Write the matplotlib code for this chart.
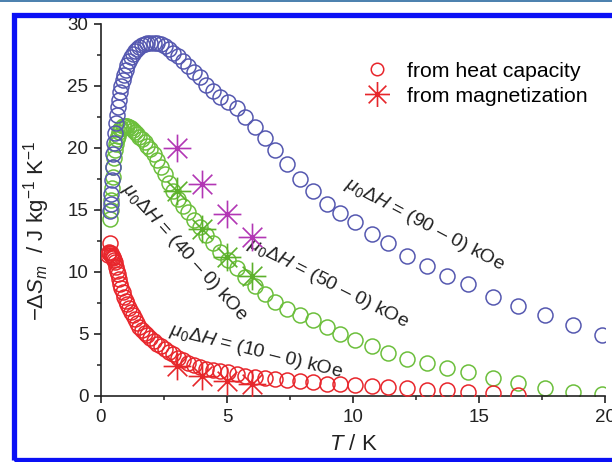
import numpy as np
import matplotlib
matplotlib.use("Agg")
import matplotlib.pyplot as plt
from matplotlib.path import Path
from matplotlib.lines import Line2D
from matplotlib.patches import Rectangle
from matplotlib.ticker import MultipleLocator

plt.rcParams['font.family'] = ['Liberation Sans', 'DejaVu Sans']
plt.rcParams['mathtext.fontset'] = 'custom'
plt.rcParams['mathtext.rm'] = 'Liberation Sans'
plt.rcParams['mathtext.it'] = 'Liberation Sans:italic'
plt.rcParams['mathtext.bf'] = 'Liberation Sans:bold'

# ---------------- data ----------------
T_hc = [0.36, 0.38, 0.40, 0.43, 0.46, 0.49, 0.52, 0.55, 0.59, 0.63,
        0.67, 0.71, 0.76, 0.81, 0.86, 0.92, 0.98, 1.04, 1.11, 1.18,
        1.26, 1.34, 1.43, 1.52, 1.62, 1.73, 1.84, 1.96, 2.09, 2.22,
        2.37, 2.52, 2.69, 2.86, 3.05, 3.25, 3.46, 3.68, 3.92, 4.18,
        4.45, 4.74, 5.05, 5.38, 5.73, 6.10, 6.50, 6.92, 7.37, 7.90,
        8.40, 8.96, 9.48, 10.08, 10.74, 11.39, 12.13, 12.92, 13.72, 14.56,
        15.56, 16.55, 17.62, 18.72, 19.87]

S_90 = [14.9, 15.5, 16.3, 17.4, 18.5, 19.5, 20.4, 21.2, 22.0, 22.7,
        23.3, 23.9, 24.5, 25.0, 25.5, 25.9, 26.3, 26.7, 27.0, 27.3,
        27.6, 27.8, 28.0, 28.15, 28.3, 28.4, 28.45, 28.5, 28.5, 28.45,
        28.35, 28.2, 28.0, 27.7, 27.4, 27.0, 26.6, 26.1, 25.7, 25.1,
        24.6, 24.1, 23.7, 23.2, 22.5, 21.7, 20.8, 19.8, 18.7, 17.5,
        16.5, 15.5, 14.76, 14.0, 13.1, 12.3, 11.3, 10.5, 9.7, 9.0,
        8.0, 7.25, 6.5, 5.7, 4.9]

S_50 = [14.3, 15.0, 15.8, 16.8, 17.7, 18.5, 19.2, 19.8, 20.3, 20.7,
        21.0, 21.3, 21.5, 21.65, 21.75, 21.8, 21.8, 21.75, 21.7, 21.6,
        21.45, 21.3, 21.1, 20.9, 20.7, 20.45, 20.2, 19.9, 19.5, 19.0,
        18.5, 17.9, 17.2, 16.5, 15.9, 15.3, 14.8, 14.2, 13.6, 13.0,
        12.3, 11.6, 11.0, 10.3, 9.6, 8.9, 8.2, 7.6, 7.0, 6.5,
        6.1, 5.6, 5.0, 4.5, 4.0, 3.45, 3.0, 2.65, 2.25, 1.95,
        1.45, 1.05, 0.65, 0.35, 0.2]

T_10 = [0.28, 0.30, 0.33, 0.36, 0.38, 0.40, 0.43, 0.46, 0.49, 0.52,
        0.55, 0.59, 0.63, 0.67, 0.71, 0.76, 0.81, 0.86, 0.92, 0.98,
        1.04, 1.11, 1.18, 1.26, 1.34, 1.43, 1.52, 1.62, 1.73, 1.84,
        1.96, 2.09, 2.22, 2.37, 2.52, 2.69, 2.86, 3.05, 3.25, 3.46,
        3.68, 3.92, 4.18, 4.45, 4.74, 5.05, 5.38, 5.73, 6.10, 6.50,
        6.92, 7.37, 7.90, 8.40, 8.96, 9.48, 10.08, 10.74, 11.39, 12.13,
        12.92, 13.72, 14.56, 15.56, 16.55]
S_10 = [11.4, 11.5, 11.6, 12.3, 11.5, 11.4, 11.3, 11.2, 11.1, 11.0,
        10.8, 10.4, 10.1, 9.8, 9.4, 9.0, 8.7, 8.4, 8.0, 7.7,
        7.4, 7.1, 6.8, 6.5, 6.2, 5.9, 5.6, 5.35, 5.1, 4.9,
        4.65, 4.45, 4.2, 4.0, 3.8, 3.55, 3.35, 3.1, 2.9, 2.7,
        2.5, 2.35, 2.2, 2.1, 2.0, 1.9, 1.75, 1.6, 1.5, 1.42,
        1.35, 1.28, 1.2, 1.1, 1.0, 0.95, 0.88, 0.8, 0.72, 0.62,
        0.52, 0.45, 0.36, 0.22, 0.08]

T_mag = [3, 4, 5, 6]
M_90 = [20.0, 17.1, 14.7, 12.8]
M_50 = [16.5, 13.5, 11.2, 9.7]
M_10 = [2.4, 1.6, 1.2, 1.0]

labels = [r'$\mu_0\Delta H$ = (90 – 0) kOe',
          r'$\mu_0\Delta H$ = (50 – 0) kOe',
          r'$\mu_0\Delta H$ = (40 – 0) kOe',
          r'$\mu_0\Delta H$ = (10 – 0) kOe']
legend_labels = ['from heat capacity', 'from magnetization']

# ---------------- style ----------------
c_blue = '#5558b0'
c_green = '#6cbf3c'
c_red = '#e8262c'
c_mag = '#b236b4'
c_gstar = '#5cb02a'
c_rstar = '#e6262a'

# 8-armed asterisk marker
verts, codes = [], []
for ang in np.deg2rad([0, 45, 90, 135]):
    verts += [(np.cos(ang), np.sin(ang)), (-np.cos(ang), -np.sin(ang))]
    codes += [Path.MOVETO, Path.LINETO]
star = Path(verts, codes)

fig = plt.figure(figsize=(6.12, 4.62), dpi=100)
ax = fig.add_axes([101/612, 66/462, 504/612, 372/462])

ms_c = 10.8
mew_c = 1.1
ax.plot(T_hc, S_50, 'o', ms=ms_c, mfc='none', mec=c_green, mew=mew_c, zorder=2)
ax.plot(T_hc, S_90, 'o', ms=ms_c, mfc='none', mec=c_blue, mew=mew_c, zorder=3)
ax.plot(T_10, S_10, 'o', ms=ms_c, mfc='none', mec=c_red, mew=mew_c, zorder=3)

ms_s = 20
mew_s = 1.2
ax.plot(T_mag, M_90, ls='none', marker=star, ms=ms_s, mfc='none', mec=c_mag, mew=mew_s, zorder=5)
ax.plot(T_mag, M_50, ls='none', marker=star, ms=ms_s, mfc='none', mec=c_gstar, mew=mew_s, zorder=5)
ax.plot(T_mag, M_10, ls='none', marker=star, ms=ms_s, mfc='none', mec=c_rstar, mew=mew_s, zorder=5)

ax.set_xlim(0, 20)
ax.set_ylim(0, 30)
ax.spines['top'].set_visible(False)
ax.spines['right'].set_visible(False)
for s in ['left', 'bottom']:
    ax.spines[s].set_linewidth(1.2)
    ax.spines[s].set_color('#222222')
ax.xaxis.set_major_locator(MultipleLocator(5))
ax.xaxis.set_minor_locator(MultipleLocator(2.5))
ax.yaxis.set_major_locator(MultipleLocator(5))
ax.yaxis.set_minor_locator(MultipleLocator(2.5))
ax.tick_params(which='major', direction='out', length=5, width=1.2, labelsize=13.5,
               colors='#222222', pad=4)
ax.tick_params(which='minor', direction='out', length=3, width=1.1, colors='#222222')

ax.set_xlabel(r'$T$ / K', fontsize=16, color='#222222', labelpad=6)
ax.set_ylabel(r'$-\Delta S_m$  / J kg$^{-1}$ K$^{-1}$', fontsize=16, color='#222222')
ax.yaxis.set_label_coords(-0.097, 0.444)

txt_kw = dict(fontsize=14, color='#222222', ha='center', va='center', rotation_mode='anchor')
ax.text(12.85, 13.8, labels[0], rotation=-28, **txt_kw)
ax.text(9.0, 9.1, labels[1], rotation=-27, **txt_kw)
ax.text(3.3, 11.6, labels[2], rotation=-48, **txt_kw)
ax.text(6.15, 3.6, labels[3], rotation=-14, **txt_kw)

h1 = Line2D([], [], ls='none', marker='o', ms=9, mfc='none', mec=c_red, mew=1.1)
h2 = Line2D([], [], ls='none', marker=star, ms=18, mfc='none', mec=c_rstar, mew=1.2)
ax.legend([h1, h2], legend_labels, loc='upper left', bbox_to_anchor=(0.505, 0.922),
          frameon=False, fontsize=15.3, handlelength=1.2, handletextpad=0.8,
          labelspacing=0.3, borderaxespad=0)

# figure frame
fig.add_artist(Rectangle((13.5/612, 1 - 460/462), 1.2, (460 - 14.5)/462,
                         transform=fig.transFigure, fill=False,
                         edgecolor='#0a10f5', lw=3.8, zorder=10))
fig.add_artist(Line2D([0, 1], [1 - 0.8/462, 1 - 0.8/462], transform=fig.transFigure,
                      color='#2a6aa0', lw=1.2))

fig.savefig('out.png', dpi=100)
